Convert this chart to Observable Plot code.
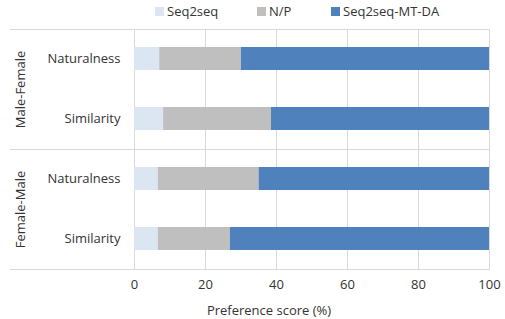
<!DOCTYPE html>
<html><head><meta charset="utf-8">
<script src="https://cdn.jsdelivr.net/npm/d3@7"></script>
<script src="https://cdn.jsdelivr.net/npm/@observablehq/plot@0.6"></script>
<style>
body{margin:0;background:#fff;font-family:"Open Sans",sans-serif;}
#legend{position:relative;height:22px;font-size:13px;color:#333}
.item{position:absolute;top:0;height:22px;display:flex;align-items:center}
.sw{width:9px;height:9px;margin-right:3px}
</style></head><body>
<div id="legend"></div>
<div id="chart"></div>
<script>
const groups = ["Male-Female", "Female-Male"];
const metrics = ["Naturalness", "Similarity"];
const series = ["Seq2seq", "N/P", "Seq2seq-MT-DA"];
const colors = ["#dce6f2", "#bfbfbf", "#4f81bd"];
// rows: MF-Naturalness, MF-Similarity, FM-Naturalness, FM-Similarity
const rowGroup = ["Male-Female", "Male-Female", "Female-Male", "Female-Male"];
const rowMetric = ["Naturalness", "Similarity", "Naturalness", "Similarity"];
const seq2seq = [7.1, 8.2, 6.7, 6.7];
const np = [23.0, 30.4, 28.4, 20.3];
const mtda = [69.9, 61.4, 64.9, 73.0];
const xTicks = [0, 20, 40, 60, 80, 100];
const xLabel = "Preference score (%)";

const rows = [];
const vals = [seq2seq, np, mtda];
rowGroup.forEach((g, i) => {
  series.forEach((s, j) => rows.push({group: g, metric: rowMetric[i], series: s, value: vals[j][i]}));
});

const legend = document.getElementById("legend");
const legendLeft = [155, 257, 331];
series.forEach((s, i) => {
  const it = document.createElement("div"); it.className = "item"; it.style.left = legendLeft[i] + "px";
  const sw = document.createElement("div"); sw.className = "sw"; sw.style.background = colors[i];
  const t = document.createElement("span"); t.textContent = s;
  it.appendChild(sw); it.appendChild(t); legend.appendChild(it);
});

const plot = Plot.plot({
  width: 505, height: 297,
  marginTop: 7, marginBottom: 50, marginLeft: 134, marginRight: 16,
  style: {fontFamily: "Open Sans", fontSize: "13px", color: "#333", background: "#fff"},
  x: {domain: [0, 100], ticks: xTicks, label: null},
  y: {domain: metrics, paddingInner: 0.61, paddingOuter: 0.305, label: null},
  fy: {domain: groups, padding: 0, label: null, axis: null},
  color: {domain: series, range: colors},
  marks: [
    Plot.gridX(xTicks, {stroke: "#d9d9d9", strokeOpacity: 1}),
    Plot.frame({anchor: "top", stroke: "#d9d9d9", insetLeft: -124}),
    Plot.frame({anchor: "bottom", stroke: "#d9d9d9", insetLeft: -124}),
    Plot.barX(rows, Plot.stackX({y: "metric", fy: "group", x: "value", fill: "series", order: series})),
    Plot.axisY({tickSize: 0, tickPadding: 14, label: null}),
    Plot.axisX(xTicks, {tickSize: 0, tickPadding: 10, label: null}),
    Plot.text([xLabel], {fy: () => groups[1], text: d => d, frameAnchor: "bottom", textAnchor: "middle", lineAnchor: "middle", dx: -43, dy: 41, fontSize: 13}),
    Plot.text(groups, {fy: d => d, text: d => d, frameAnchor: "left", textAnchor: "middle", lineAnchor: "middle", dx: -114, rotate: -90, fontSize: 13})
  ]
});
document.getElementById("chart").appendChild(plot);
</script>
</body></html>
